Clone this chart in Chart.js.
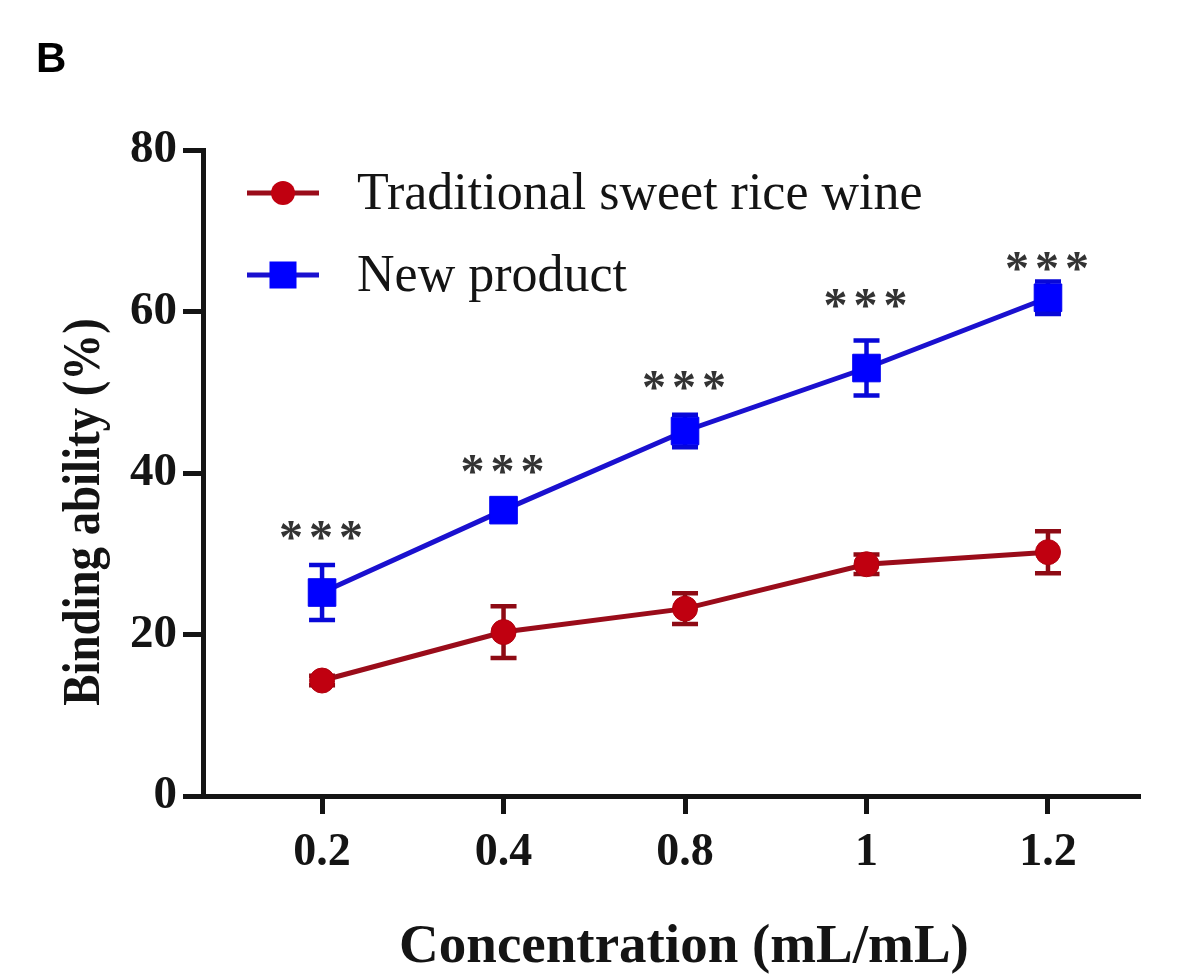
<!DOCTYPE html>
<html>
<head>
<meta charset="utf-8">
<script src="https://cdn.jsdelivr.net/npm/chart.js@4/dist/chart.umd.min.js"></script>
<style>
  html, body { margin: 0; padding: 0; background: #ffffff; }
  canvas { display: block; }
</style>
</head>
<body>
<canvas id="chart" width="1178" height="979"></canvas>
<script>
// Concentration levels (categories on the x axis)
const concentrations = ['0.2', '0.4', '0.8', '1', '1.2'];

// Binding ability (%) – mean and error for each product
const traditionalMean = [14.3, 20.3, 23.2, 28.7, 30.2];
const traditionalErr  = [0.6, 3.2, 1.9, 1.2, 2.6];
const newProductMean  = [25.2, 35.4, 45.2, 53.0, 61.7];
const newProductErr   = [3.4, 1.2, 2.0, 3.4, 2.0];

// Significance marks shown above each concentration
const significanceLevel = [32.9, 41.1, 51.5, 61.6, 66.2];
const significanceMark  = ['***', '***', '***', '***', '***'];

// Y axis tick values
const yTicks = [0, 20, 40, 60, 80];

const SERIF = '"Liberation Serif", "Times New Roman", serif';
const INK = '#141414';

const toPoints = arr => arr.map((v, i) => ({ x: i, y: v }));

// Vertical error bars with caps, drawn under the markers
const errorBarPlugin = {
  id: 'errorBars',
  beforeDatasetsDraw(chart) {
    const { ctx, scales: { y } } = chart;
    chart.data.datasets.forEach((ds, di) => {
      const meta = chart.getDatasetMeta(di);
      ctx.save();
      ctx.strokeStyle = ds.errorColor;
      ctx.lineWidth = 4.5;
      meta.data.forEach((pt, i) => {
        const v = ds.data[i].y, e = ds.errors[i];
        const yt = y.getPixelForValue(v + e);
        const yb = y.getPixelForValue(v - e);
        const x = pt.x, cap = 13;
        ctx.beginPath();
        ctx.moveTo(x, yt); ctx.lineTo(x, yb);
        ctx.moveTo(x - cap, yt); ctx.lineTo(x + cap, yt);
        ctx.moveTo(x - cap, yb); ctx.lineTo(x + cap, yb);
        ctx.stroke();
      });
      ctx.restore();
    });
  }
};

// Asterisks above each concentration
const significancePlugin = {
  id: 'significance',
  afterDatasetsDraw(chart) {
    const { ctx, scales: { x, y } } = chart;
    ctx.save();
    ctx.font = 'bold 48px ' + SERIF;
    ctx.fillStyle = '#333333';
    ctx.textAlign = 'center';
    ctx.textBaseline = 'alphabetic';
    const m = ctx.measureText('*');
    const mid = (m.actualBoundingBoxAscent - m.actualBoundingBoxDescent) / 2;
    significanceMark.forEach((mark, i) => {
      const cx = x.getPixelForValue(i) - 1;
      const cy = y.getPixelForValue(significanceLevel[i]);
      const n = mark.length;
      for (let k = 0; k < n; k++) {
        ctx.fillText('*', cx + (k - (n - 1) / 2) * 30, cy + mid);
      }
    });
    ctx.restore();
  }
};

// Legend inside the plot, axis titles and panel letter
const annotationPlugin = {
  id: 'annotations',
  afterDraw(chart) {
    const { ctx } = chart;
    ctx.save();

    // panel letter
    ctx.fillStyle = '#000';
    ctx.font = 'bold 42px "Liberation Sans", Arial, sans-serif';
    ctx.textAlign = 'left';
    ctx.textBaseline = 'alphabetic';
    ctx.fillText('B', 36, 72);

    // legend entries
    const rows = [193, 275];
    chart.data.datasets.forEach((ds, di) => {
      const yy = rows[di];
      ctx.strokeStyle = ds.borderColor;
      ctx.lineWidth = 5;
      ctx.beginPath();
      ctx.moveTo(247, yy); ctx.lineTo(319, yy);
      ctx.stroke();
      ctx.fillStyle = ds.pointBackgroundColor;
      if (ds.pointStyle === 'circle') {
        ctx.beginPath();
        ctx.arc(283, yy, 12, 0, Math.PI * 2);
        ctx.fill();
      } else {
        ctx.fillRect(283 - 13.5, yy - 13.5, 27, 27);
      }
      ctx.fillStyle = INK;
      ctx.font = '52px ' + SERIF;
      ctx.textBaseline = 'middle';
      ctx.fillText(ds.label, 357, yy + 2);
    });

    // y axis title
    ctx.save();
    ctx.translate(86, 512);
    ctx.rotate(-Math.PI / 2);
    ctx.scale(0.9, 1);
    ctx.font = 'bold 52px ' + SERIF;
    ctx.textAlign = 'center';
    ctx.textBaseline = 'middle';
    ctx.fillStyle = INK;
    ctx.fillText('Binding ability (%)', 0, 0);
    ctx.restore();

    // x axis title
    ctx.font = 'bold 55px ' + SERIF;
    ctx.textAlign = 'center';
    ctx.textBaseline = 'middle';
    ctx.fillStyle = INK;
    ctx.fillText('Concentration (mL/mL)', 684, 948);

    ctx.restore();
  }
};

new Chart(document.getElementById('chart'), {
  type: 'line',
  data: {
    datasets: [
      {
        label: 'Traditional sweet rice wine',
        data: toPoints(traditionalMean),
        errors: traditionalErr,
        errorColor: '#8e0a14',
        borderColor: '#9a0c1a',
        borderWidth: 5,
        pointStyle: 'circle',
        pointRadius: 12.5,
        pointBackgroundColor: '#c00010',
        pointBorderColor: '#b0000e',
        pointBorderWidth: 1,
        fill: false,
        tension: 0
      },
      {
        label: 'New product',
        data: toPoints(newProductMean),
        errors: newProductErr,
        errorColor: '#0808d8',
        borderColor: '#1a10cf',
        borderWidth: 5,
        pointStyle: 'rect',
        pointRadius: 19.5,
        pointBackgroundColor: '#0000ff',
        pointBorderColor: '#0000f0',
        pointBorderWidth: 1,
        fill: false,
        tension: 0
      }
    ]
  },
  options: {
    responsive: false,
    animation: false,
    events: [],
    layout: { padding: { top: 150, right: 38, left: 0, bottom: 0 } },
    plugins: { legend: { display: false }, tooltip: { enabled: false } },
    scales: {
      x: {
        type: 'linear',
        min: -0.656,
        max: 4.507,
        afterBuildTicks: s => { s.ticks = concentrations.map((c, i) => ({ value: i })); },
        afterFit: s => { s.height = 183; },
        ticks: {
          callback: v => concentrations[v],
          autoSkip: false,
          maxRotation: 0,
          color: INK,
          padding: 12,
          font: { family: SERIF, weight: 'bold', size: 46 }
        },
        grid: { drawOnChartArea: false, drawTicks: true, tickLength: 18, tickWidth: 5, tickColor: INK },
        border: { display: true, color: INK, width: 5 }
      },
      y: {
        min: 0,
        max: 80,
        afterBuildTicks: s => { s.ticks = yTicks.map(v => ({ value: v })); },
        afterFit: s => { s.width = 203; },
        ticks: {
          color: INK,
          padding: 6,
          font: { family: SERIF, weight: 'bold', size: 47 }
        },
        grid: { drawOnChartArea: false, drawTicks: true, tickLength: 20, tickWidth: 5, tickColor: INK },
        border: { display: true, color: INK, width: 5 }
      }
    }
  },
  plugins: [errorBarPlugin, significancePlugin, annotationPlugin]
});
</script>
</body>
</html>
